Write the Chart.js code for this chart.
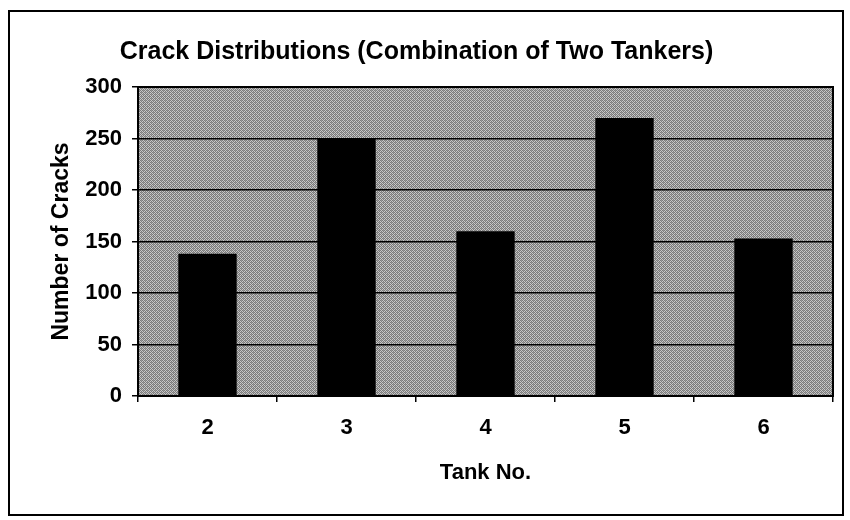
<!DOCTYPE html>
<html>
<head>
<meta charset="utf-8">
<script src="https://cdn.jsdelivr.net/npm/chart.js@4.4.1/dist/chart.umd.min.js"></script>
<style>
  html, body { margin: 0; padding: 0; background: #fff; }
  #wrap { width: 850px; height: 520px; }
</style>
</head>
<body>
<div id="wrap"><canvas id="chartTanques" width="850" height="520"></canvas></div>
<script>
const tanques = ['2', '3', '4', '5', '6'];
const trincas = [138, 250, 160, 270, 153];
const ticksY = [0, 50, 100, 150, 200, 250, 300];

const fonteNarrow = "'Liberation Sans Narrow', 'Arial Narrow', 'Liberation Sans', sans-serif";
const fonteTicks = "'Liberation Sans', Arial, sans-serif";

// padrão pontilhado cinza do fundo da área do gráfico
function criarPadrao(ctx) {
    const c = document.createElement('canvas');
    c.width = 4; c.height = 4;
    const p = c.getContext('2d');
    p.fillStyle = '#c8c8c8';
    p.fillRect(0, 0, 4, 4);
    p.fillStyle = '#7a7a7a';
    p.fillRect(0, 0, 1, 1); p.fillRect(2, 0, 1, 1);
    p.fillRect(1, 1, 1, 1); p.fillRect(3, 1, 1, 1);
    p.fillRect(0, 2, 1, 1); p.fillRect(2, 2, 1, 1);
    p.fillRect(1, 3, 1, 1); p.fillRect(3, 3, 1, 1);
    p.fillStyle = '#9a9a9a';
    p.fillRect(1, 0, 1, 1); p.fillRect(3, 2, 1, 1);
    return ctx.createPattern(c, 'repeat');
}

const fundoPlot = {
    id: 'fundoPlot',
    beforeDraw(chart) {
        const { ctx, chartArea: a } = chart;
        ctx.save();
        ctx.fillStyle = criarPadrao(ctx);
        ctx.fillRect(a.left, a.top, a.right - a.left, a.bottom - a.top);
        ctx.restore();
    },
    afterDraw(chart) {
        const { ctx, chartArea: a } = chart;
        ctx.save();
        ctx.strokeStyle = '#000';
        ctx.lineWidth = 2;
        ctx.strokeRect(a.left, a.top, a.right - a.left, a.bottom - a.top);
        // moldura externa
        ctx.strokeRect(9, 11, 834, 504);
        ctx.restore();
    }
};

new Chart(document.getElementById('chartTanques'), {
    type: 'bar',
    data: {
        labels: tanques,
        datasets: [{
            label: 'Number of Cracks',
            data: trincas,
            backgroundColor: '#000',
            borderWidth: 0,
            categoryPercentage: 1,
            barPercentage: 0.42
        }]
    },
    options: {
        responsive: false,
        animation: false,
        layout: { padding: { top: 0, right: 17, bottom: 0, left: 0 } },
        plugins: {
            legend: { display: false },
            tooltip: { enabled: false },
            title: {
                display: true,
                text: 'Crack Distributions (Combination of Two Tankers)',
                color: '#000',
                font: { family: fonteNarrow, size: 25, weight: 'bold' },
                padding: { top: 37, bottom: 20 }
            }
        },
        scales: {
            x: {
                afterFit: s => { s.height = 124; },
                grid: {
                    offset: true,
                    drawOnChartArea: false,
                    color: '#000',
                    lineWidth: 1.5,
                    tickLength: 6
                },
                border: { color: '#000', width: 2 },
                ticks: {
                    color: '#000',
                    padding: 13,
                    font: { family: fonteTicks, size: 22, weight: 'bold' }
                },
                title: {
                    display: true,
                    text: 'Tank No.',
                    color: '#000',
                    font: { family: fonteNarrow, size: 22, weight: 'bold' },
                    padding: { top: 0, bottom: 34 }
                }
            },
            y: {
                min: 0,
                max: 300,
                afterFit: s => { s.width = 138; },
                afterBuildTicks: s => { s.ticks = ticksY.map(v => ({ value: v })); },
                grid: {
                    color: '#000',
                    lineWidth: 1.5,
                    tickLength: 6
                },
                border: { color: '#000', width: 2 },
                ticks: {
                    color: '#000',
                    padding: 10,
                    font: { family: fonteTicks, size: 22, weight: 'bold' }
                },
                title: {
                    display: true,
                    text: 'Number of Cracks',
                    color: '#000',
                    font: { family: fonteNarrow, size: 23, weight: 'bold' },
                    padding: { top: 48, bottom: 0 }
                }
            }
        }
    },
    plugins: [fundoPlot]
});
</script>
</body>
</html>
